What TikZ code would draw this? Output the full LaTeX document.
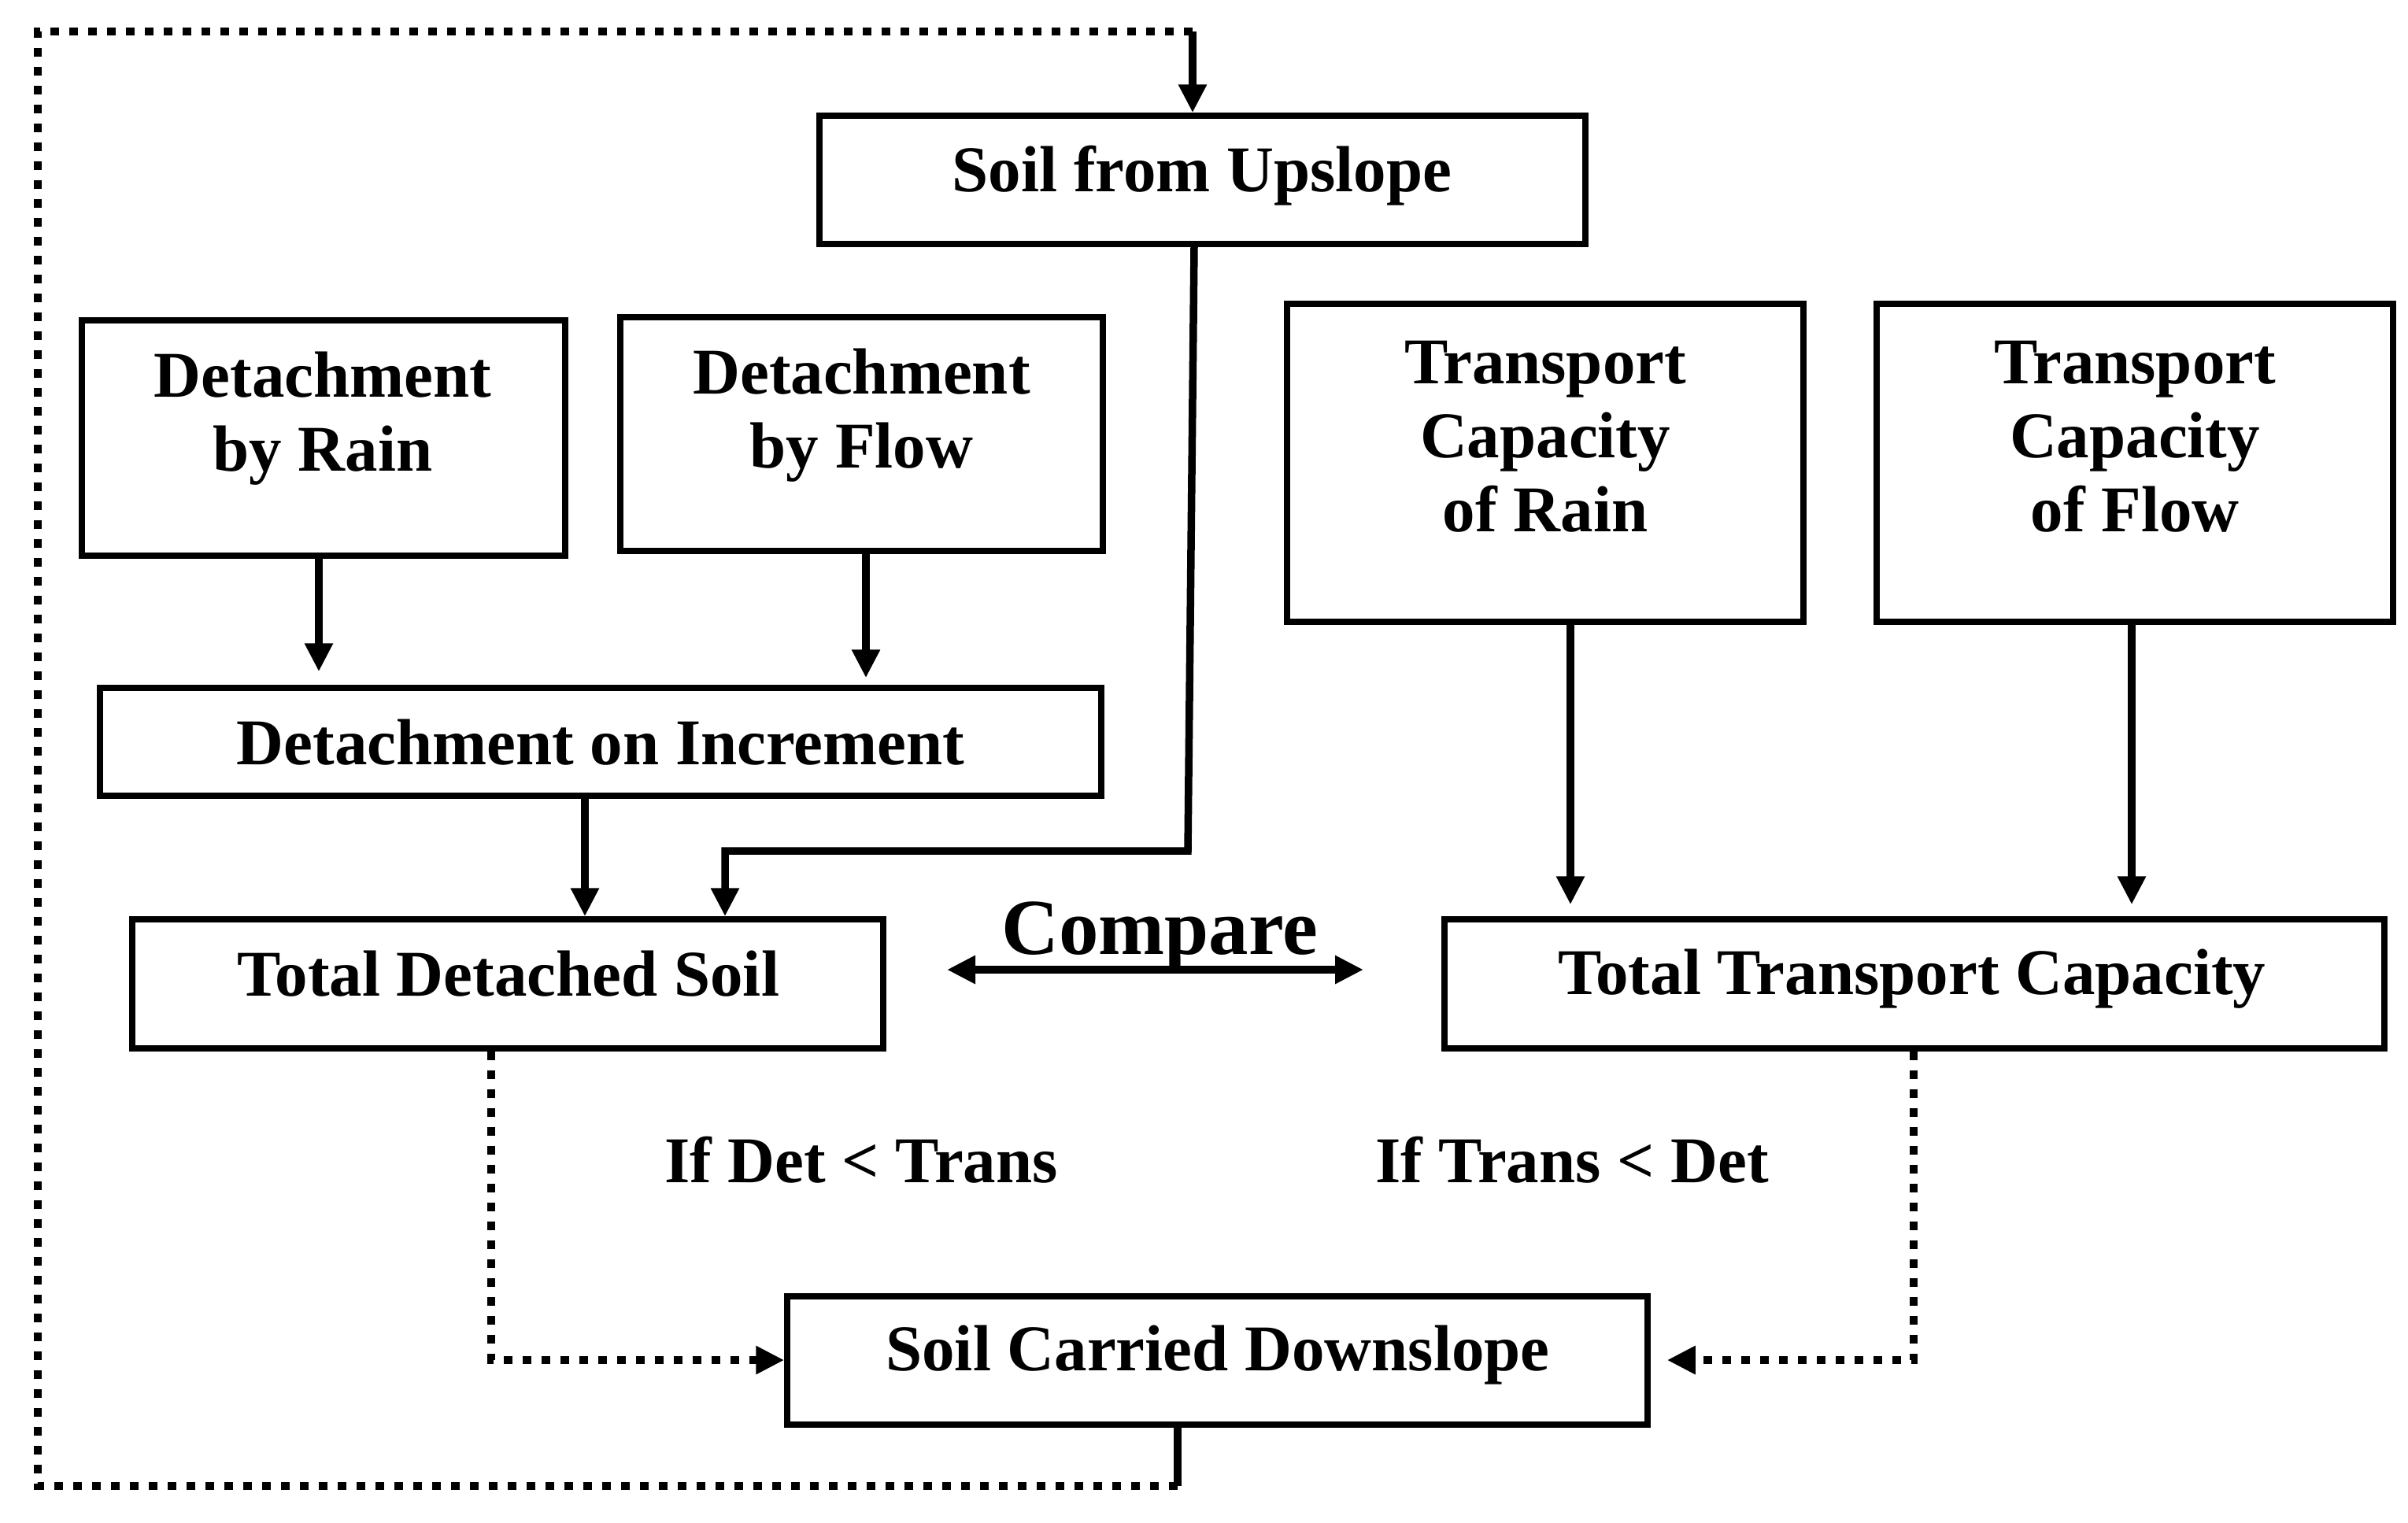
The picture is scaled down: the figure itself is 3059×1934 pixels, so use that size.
\documentclass[tikz,border=0pt]{standalone}
\usepackage{fontspec}
\setmainfont{Liberation Serif}
\usetikzlibrary{arrows.meta}
\begin{document}
\begin{tikzpicture}[x=0.1mm,y=-0.1mm,
  box/.style={draw, line width=0.75mm, inner sep=0pt},
  lbl/.style={font=\fontsize{23.6}{26.7}\selectfont\bfseries, anchor=base, inner sep=0pt},
  biglbl/.style={font=\fontsize{28.7}{32}\selectfont\bfseries, anchor=base, inner sep=0pt},
  conn/.style={line width=0.95mm, line join=miter},
  tip/.tip={Triangle[length=3.6mm,width=3.4mm]},
  arr/.style={conn, -tip},
  dotline/.style={line width=0.95mm, dash pattern=on 1.1mm off 1.3mm},
]
\useasboundingbox (0,0) rectangle (3059,1934);

% boxes
\node[box, minimum width=97.3mm, minimum height=16.3mm] (up) at (1527.5,228.5) {};
\node[box, minimum width=61.4mm, minimum height=29.9mm] (rain) at (411,556.5) {};
\node[box, minimum width=61.3mm, minimum height=29.7mm] (flow) at (1094.5,551.5) {};
\node[box, minimum width=65.6mm, minimum height=40.4mm] (trr) at (1963,588) {};
\node[box, minimum width=65.6mm, minimum height=40.4mm] (trf) at (2712,588) {};
\node[box, minimum width=127.2mm, minimum height=13.7mm] (inc) at (763,942.5) {};
\node[box, minimum width=95.4mm, minimum height=16.4mm] (tds) at (645,1250) {};
\node[box, minimum width=119.4mm, minimum height=16.4mm] (tt) at (2432,1250) {};
\node[box, minimum width=109.3mm, minimum height=16.3mm] (sc) at (1546.5,1728.5) {};

% texts
\node[lbl] (upT) at (1527,243) {Soil from Upslope};
\node[lbl] (rainT1) at (410,504) {Detachment};
\node[lbl] (rainT2) at (410,598) {by Rain};
\node[lbl] (flowT1) at (1094.5,500) {Detachment};
\node[lbl] (flowT2) at (1094.5,594) {by Flow};
\node[lbl] (trrT1) at (1963,487) {Transport};
\node[lbl] (trrT2) at (1963,581) {Capacity};
\node[lbl] (trrT3) at (1963,675) {of Rain};
\node[lbl] (trfT1) at (2712,487) {Transport};
\node[lbl] (trfT2) at (2712,581) {Capacity};
\node[lbl] (trfT3) at (2712,675) {of Flow};
\node[lbl] (incT) at (763,971) {Detachment on Increment};
\node[lbl] (tdsT) at (646,1265) {Total Detached Soil};
\node[lbl] (ttT) at (2429,1263) {Total Transport Capacity};
\node[lbl] (scT) at (1547,1741) {Soil Carried Downslope};
\node[biglbl] (cmpT) at (1473,1212) {Compare};
\node[lbl] (ifdT) at (1094,1502) {If Det < Trans};
\node[lbl] (iftT) at (1997,1502) {If Trans < Det};

% helper coordinates
\coordinate (L1) at (1496,1888);
\coordinate (L2) at (48,1888);
\coordinate (L3) at (48,40);
\coordinate (L4) at (1515,40);
\coordinate (xU) at (1517,0);
\coordinate (U1) at (1509,1081);
\coordinate (U2) at (921,1081);
\coordinate (xR) at (405,0);
\coordinate (xF) at (1100,0);
\coordinate (xI) at (743,0);
\coordinate (xTR) at (1995,0);
\coordinate (xTF) at (2708,0);
\coordinate (cA) at (1203,1232);
\coordinate (cB) at (1732,1232);
\coordinate (D1) at (624,1728);
\coordinate (D2) at (2431,1728);

% feedback loop
\draw[conn] (sc.south -| L1) -- (L1);
\draw[dotline] (L1) -- (L2) -- (L3) -- (L4);
\draw[arr] (L4) -- (up.north -| L4);

% soil from upslope to total detached
\draw[arr] (up.south -| xU) -- (U1) -- (U2) -- (U2 |- tds.north);

% detachment arrows
\draw[arr, shorten >=1.7mm] (rain.south -| xR) -- (inc.north -| xR);
\draw[arr, shorten >=0.9mm] (flow.south -| xF) -- (inc.north -| xF);
\draw[arr] (inc.south -| xI) -- (tds.north -| xI);

% transport arrows
\draw[arr, shorten >=1.5mm] (trr.south -| xTR) -- (tt.north -| xTR);
\draw[arr, shorten >=1.5mm] (trf.south -| xTF) -- (tt.north -| xTF);

% compare
\draw[conn, tip-tip] (cA) -- (cB);

% dotted to downslope
\draw[dotline, -tip] (tds.south -| D1) -- (D1) -- (D1 -| sc.west);
\draw[dotline, -tip, shorten >=2.1mm] (tt.south -| D2) -- (D2) -- (D2 -| sc.east);
\end{tikzpicture}
\end{document}
